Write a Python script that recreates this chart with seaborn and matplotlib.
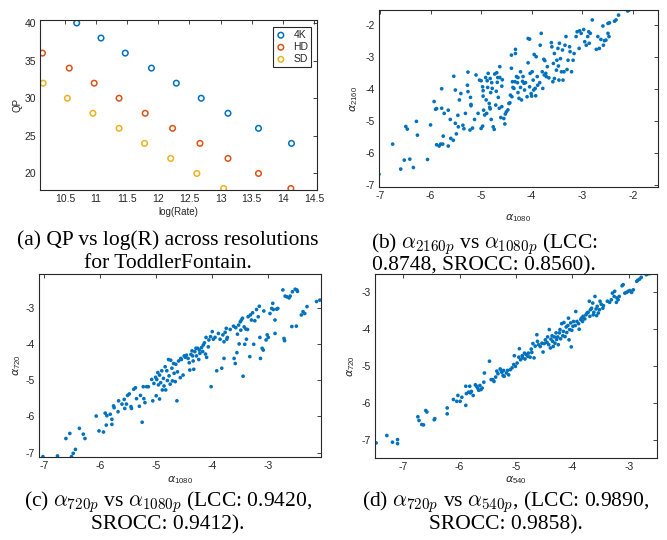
import matplotlib
matplotlib.use("Agg")
import matplotlib.pyplot as plt
import seaborn as sns

# ---------------- data ----------------
# (a) QP vs log(Rate)
a_rate_4k = [10.69, 11.08, 11.47, 11.89, 12.29, 12.69, 13.12, 13.61, 14.14]
a_qp_4k = [40, 38, 36, 34, 32, 30, 28, 26, 24]
a_rate_hd = [10.14, 10.57, 10.97, 11.37, 11.79, 12.23, 12.67, 13.12, 13.61, 14.13]
a_qp_hd = [36, 34, 32, 30, 28, 26, 24, 22, 20, 18]
a_rate_sd = [10.15, 10.54, 10.95, 11.37, 11.78, 12.2, 12.62, 13.05]
a_qp_sd = [32, 30, 28, 26, 24, 22, 20, 18]
a_series = ["4K", "HD", "SD"]
a_xticks = [10.5, 11, 11.5, 12, 12.5, 13, 13.5, 14, 14.5]
a_xticklabels = ["10.5", "11", "11.5", "12", "12.5", "13", "13.5", "14", "14.5"]
a_yticks = [20, 25, 30, 35, 40]

# (b) alpha_2160 vs alpha_1080
b_x = [-7.02,-6.75,-6.59,-6.52,-6.41,-6.34,-6.49,-6.46,-6.28,-6.26,
       -6.06,-6.0,-5.93,-5.88,-5.9,-5.88,-5.83,-5.78,-5.78,-5.75,
       -5.73,-5.8,-5.76,-5.65,-5.65,-5.61,-5.6,-5.55,-5.54,-5.51,
       -5.51,-5.49,-5.46,-5.45,-5.43,-5.4,-5.36,-5.34,-5.31,-5.27,
       -5.26,-5.26,-5.22,-5.21,-5.2,-5.2,-5.17,-5.1,-5.13,-5.06,
       -5.03,-5.0,-5.0,-4.97,-4.97,-4.96,-4.96,-4.95,-4.93,-4.91,
       -4.9,-4.89,-4.88,-4.87,-4.86,-4.84,-4.83,-4.82,-4.82,-4.81,
       -4.8,-4.79,-4.78,-4.76,-4.74,-4.73,-4.71,-4.7,-4.69,-4.68,
       -4.67,-4.66,-4.64,-4.63,-4.63,-4.61,-4.59,-4.59,-4.58,-4.55,
       -4.53,-4.52,-4.5,-4.47,-4.45,-4.43,-4.42,-4.4,-4.4,-4.39,
       -4.38,-4.37,-4.35,-4.33,-4.32,-4.32,-4.3,-4.28,-4.27,-4.27,
       -4.25,-4.22,-4.22,-4.2,-4.18,-4.17,-4.15,-4.14,-4.12,-4.09,
       -4.07,-4.04,-4.07,-4.04,-4.03,-4.01,-4.0,-3.99,-3.97,-3.96,
       -3.95,-3.93,-3.92,-3.91,-3.89,-3.88,-3.84,-3.83,-3.81,-3.79,
       -3.78,-3.76,-3.75,-3.74,-3.72,-3.71,-3.69,-3.66,-3.61,-3.6,
       -3.58,-3.57,-3.55,-3.55,-3.51,-3.5,-3.48,-3.47,-3.46,-3.45,
       -3.43,-3.41,-3.39,-3.38,-3.36,-3.34,-3.32,-3.3,-3.28,-3.25,
       -3.24,-3.21,-3.18,-3.16,-3.12,-3.1,-3.06,-3.05,-3.02,-2.97,
       -2.95,-2.92,-2.89,-2.87,-2.86,-2.84,-2.8,-2.72,-2.69,-2.66,
       -2.63,-2.59,-2.58,-2.56,-2.53,-2.49,-2.47,-2.49,-2.46,-2.36,
       -2.33,-2.28,-2.1,-2.07]
b_y = [-6.66,-5.72,-6.5,-6.22,-6.19,-6.45,-5.17,-5.25,-5.01,-5.44,
       -6.2,-5.12,-4.39,-4.61,-4.63,-5.74,-5.78,-4.6,-3.99,-5.47,
       -4.76,-5.72,-5.72,-4.66,-5.78,-4.95,-5.54,-5.6,-3.6,-4.03,
       -5.07,-5.4,-4.82,-5.18,-4.34,-4.14,-5.13,-5.24,-4.76,-3.88,
       -4.08,-3.47,-5.28,-4.26,-4.48,-4.52,-5.22,-3.56,-4.95,-4.76,
       -3.72,-3.74,-5.23,-5.16,-3.93,-4.05,-4.22,-4.66,-4.81,-3.64,
       -4.34,-4.76,-3.74,-3.95,-3.51,-4.45,-4.57,-4.62,-3.67,-4.11,
       -4.95,-3.8,-3.98,-5.18,-5.26,-3.53,-4.5,-4.07,-3.49,-3.79,
       -3.64,-4.26,-4.6,-3.3,-3.64,-4.89,-3.91,-4.55,-3.71,-4.92,
       -5.09,-4.78,-4.71,-4.65,-4.45,-4.43,-4.19,-3.35,-2.94,-4.24,
       -3.77,-3.95,-3.98,-3.77,-2.76,-2.89,-3.61,-3.8,-3.64,-4.11,
       -4.29,-3.46,-3.95,-4.34,-3.76,-3.61,-3.82,-4.03,-3.8,-4.24,
       -2.42,-2.44,-3.18,-3.93,-3.51,-4.14,-4.22,-3.46,-3.72,-4.03,
       -2.92,-3.98,-4.21,-2.99,-3.61,-3.88,-3.8,-2.63,-2.26,-3.46,
       -3.98,-3.07,-3.56,-3.11,-3.51,-3.61,-3.3,-3.65,-2.55,-2.68,
       -3.77,-3.2,-2.89,-3.67,-3.41,-3.1,-2.73,-3.28,-3.72,-2.57,
       -3.05,-3.46,-2.78,-3.72,-3.46,-2.63,-2.36,-3.39,-3.1,-2.68,
       -2.83,-3.46,-3.1,-2.89,-2.36,-2.21,-2.73,-2.18,-2.26,-2.14,
       -2.52,-2.63,-2.36,-2.21,-2.57,-2.26,-1.84,-2.76,-2.36,-2.73,
       -2.45,-2.03,-2.63,-2.49,-2.47,-2.26,-2.36,-1.95,-1.93,-1.88,
       -1.84,-1.69,-1.56,-1.53]
b_ticks = [-7, -6, -5, -4, -3, -2]

# (c) alpha_720 vs alpha_1080
c_x = [-7.02,-6.76,-6.51,-6.48,-6.44,-6.61,-6.54,-6.37,-6.3,-6.27,
       -6.07,-6.02,-5.94,-5.91,-5.89,-5.88,-5.82,-5.79,-5.79,-5.76,
       -5.75,-5.68,-5.67,-5.61,-5.57,-5.56,-5.53,-5.51,-5.48,-5.45,
       -5.44,-5.4,-5.37,-5.35,-5.3,-5.28,-5.25,-5.23,-5.22,-5.2,
       -5.17,-5.14,-5.08,-5.06,-5.04,-5.01,-5.0,-4.99,-4.97,-4.96,
       -4.94,-4.94,-4.92,-4.9,-4.89,-4.87,-4.86,-4.84,-4.83,-4.81,
       -4.8,-4.78,-4.77,-4.75,-4.74,-4.72,-4.71,-4.69,-4.68,-4.66,
       -4.65,-4.63,-4.62,-4.6,-4.57,-4.56,-4.55,-4.52,-4.5,-4.48,
       -4.46,-4.43,-4.41,-4.4,-4.38,-4.36,-4.35,-4.34,-4.33,-4.31,
       -4.29,-4.28,-4.26,-4.24,-4.23,-4.22,-4.19,-4.17,-4.16,-4.14,
       -4.12,-4.11,-4.1,-4.07,-4.06,-4.03,-4.02,-4.0,-3.98,-3.95,
       -3.92,-3.89,-3.86,-3.83,-3.81,-3.79,-3.79,-3.77,-3.75,-3.74,
       -3.73,-3.68,-3.62,-3.61,-3.59,-3.58,-3.56,-3.55,-3.53,-3.52,
       -3.5,-3.49,-3.48,-3.46,-3.45,-3.43,-3.42,-3.4,-3.39,-3.37,
       -3.36,-3.33,-3.32,-3.3,-3.28,-3.26,-3.24,-3.21,-3.18,-3.16,
       -3.15,-3.14,-3.11,-3.09,-3.08,-3.04,-3.02,-3.0,-2.97,-2.94,
       -2.92,-2.91,-2.88,-2.88,-2.85,-2.83,-2.74,-2.72,-2.71,-2.7,
       -2.67,-2.63,-2.61,-2.58,-2.57,-2.52,-2.49,-2.48,-2.5,-2.41,
       -2.38,-2.35,-2.31,-2.14,-2.08]
c_y = [-7.11,-7.09,-7.11,-7.02,-6.91,-6.61,-6.47,-6.33,-6.49,-6.61,
       -5.99,-6.4,-6.43,-5.91,-6.24,-5.98,-5.94,-6.08,-6.22,-5.71,
       -5.76,-5.87,-5.57,-5.66,-5.53,-5.78,-5.66,-5.42,-5.38,-5.73,
       -5.78,-5.25,-5.21,-5.51,-5.72,-5.42,-6.16,-5.18,-5.51,-5.62,
       -5.18,-5.18,-4.98,-5.57,-5.09,-4.92,-5.43,-4.98,-4.79,-5.13,
       -5.52,-4.86,-5.07,-4.74,-5.27,-4.95,-5.16,-4.63,-5.27,-4.74,
       -5.01,-4.43,-4.88,-5.11,-4.45,-4.67,-5.02,-4.54,-4.81,-5.04,
       -4.56,-5.57,-4.77,-4.47,-4.93,-4.4,-4.43,-4.86,-4.33,-4.37,
       -4.31,-4.4,-4.52,-4.72,-4.29,-4.19,-4.33,-4.47,-4.7,-4.21,
       -4.12,-4.33,-4.12,-4.43,-4.17,-4.26,-4.1,-4.21,-4.03,-3.97,
       -4.28,-3.82,-4.37,-4.08,-3.89,-3.8,-5.18,-3.66,-3.87,-3.82,
       -4.74,-3.71,-3.87,-4.67,-3.75,-4.4,-3.94,-3.68,-3.57,-3.87,
       -3.82,-3.6,-3.51,-4.4,-4.54,-3.55,-4.24,-3.73,-3.48,-4.0,
       -3.39,-3.62,-3.34,-3.29,-4.89,-3.53,-4.01,-3.59,-3.87,-3.6,
       -3.25,-4.35,-3.2,-3.34,-3.14,-4.01,-3.36,-3.05,-3.25,-2.96,
       -3.82,-4.4,-4.12,-4.17,-3.09,-3.89,-3.75,-3.82,-3.16,-3.02,
       -2.88,-3.05,-3.34,-3.71,-3.04,-3.02,-2.51,-3.85,-3.91,-2.68,
       -2.7,-2.73,-2.68,-3.52,-2.56,-2.49,-2.51,-2.55,-3.51,-3.2,
       -3.11,-3.16,-2.97,-2.83,-2.79]
c_ticks = [-7, -6, -5, -4, -3]

# (d) alpha_720 vs alpha_540
d_x = [-7.48,-7.29,-7.19,-7.1,-7.1,-6.74,-6.72,-6.67,-6.64,-6.6,
       -6.58,-6.45,-6.44,-6.22,-6.22,-6.11,-6.05,-6.03,-5.99,-5.96,
       -5.89,-5.89,-5.88,-5.84,-5.82,-5.81,-5.79,-5.76,-5.72,-5.7,
       -5.68,-5.66,-5.64,-5.62,-5.6,-5.57,-5.56,-5.47,-5.44,-5.41,
       -5.39,-5.36,-5.34,-5.32,-5.28,-5.26,-5.25,-5.23,-5.22,-5.21,
       -5.17,-5.15,-5.13,-5.1,-5.07,-5.04,-5.01,-5.03,-4.98,-4.95,
       -4.94,-4.92,-4.89,-4.88,-4.85,-4.84,-4.82,-4.79,-4.78,-4.75,
       -4.73,-4.72,-4.7,-4.68,-4.66,-4.63,-4.62,-4.6,-4.57,-4.54,
       -4.52,-4.5,-4.48,-4.45,-4.44,-4.42,-4.41,-4.39,-4.38,-4.36,
       -4.35,-4.34,-4.32,-4.31,-4.29,-4.28,-4.26,-4.25,-4.23,-4.22,
       -4.21,-4.19,-4.17,-4.16,-4.15,-4.13,-4.11,-4.1,-4.08,-4.07,
       -4.06,-4.05,-4.03,-4.02,-4.01,-3.99,-3.98,-3.95,-3.94,-3.92,
       -3.89,-3.88,-3.85,-3.84,-3.82,-3.81,-3.78,-3.76,-3.74,-3.72,
       -3.7,-3.69,-3.68,-3.66,-3.64,-3.63,-3.62,-3.6,-3.58,-3.57,
       -3.56,-3.54,-3.52,-3.51,-3.49,-3.46,-3.45,-3.38,-3.34,-3.31,
       -3.29,-3.26,-3.25,-3.22,-3.21,-3.19,-3.17,-3.12,-3.1,-3.07,
       -3.04,-3.01,-2.98,-2.95,-2.92,-2.86,-2.84,-2.81,-2.78,-2.75,
       -2.69,-2.66,-2.63]
d_y = [-7.09,-6.89,-7.07,-7.0,-7.11,-6.38,-6.48,-6.59,-6.6,-6.21,
       -6.25,-6.46,-6.43,-6.14,-6.3,-5.91,-5.96,-5.8,-5.96,-5.85,
       -6.07,-5.55,-5.75,-5.71,-5.55,-5.73,-5.69,-5.8,-5.51,-5.55,
       -5.6,-5.66,-5.53,-5.64,-5.6,-5.44,-5.19,-4.87,-5.37,-5.37,
       -5.42,-5.3,-5.14,-5.21,-5.08,-5.14,-5.17,-5.26,-5.12,-5.28,
       -5.19,-5.12,-5.24,-5.1,-5.05,-4.96,-5.01,-4.72,-4.92,-4.76,
       -4.53,-4.83,-4.72,-4.78,-4.65,-4.81,-4.69,-4.74,-4.65,-4.76,
       -4.54,-4.63,-4.39,-4.78,-4.46,-4.15,-4.33,-4.42,-4.47,-4.38,
       -4.62,-4.39,-4.29,-4.36,-4.21,-4.42,-4.01,-4.51,-4.27,-4.18,
       -4.33,-4.47,-4.21,-4.38,-4.1,-4.28,-4.21,-4.42,-4.1,-4.01,
       -4.26,-3.85,-4.18,-4.06,-3.82,-4.2,-3.94,-4.09,-3.9,-3.7,
       -4.29,-4.01,-3.83,-4.48,-4.03,-3.92,-3.79,-3.9,-3.52,-3.79,
       -3.85,-4.0,-3.74,-3.7,-3.79,-3.65,-3.72,-3.61,-3.56,-3.54,
       -3.24,-3.65,-3.47,-3.43,-3.29,-3.61,-3.54,-3.11,-3.45,-3.63,
       -3.38,-3.56,-3.47,-3.24,-3.32,-3.43,-3.36,-3.24,-3.27,-3.2,
       -3.02,-3.11,-2.97,-3.27,-3.15,-3.2,-3.11,-2.82,-2.79,-3.02,
       -3.0,-2.97,-2.95,-3.0,-2.93,-2.7,-2.67,-2.64,-2.59,-2.48,
       -2.52,-2.49,-2.49]
d_ticks = [-7, -6, -5, -4, -3]

captions = {
    "a": ["(a) QP vs log(R) across resolutions", "for ToddlerFontain."],
    "b": [r"(b) $\alpha_{2160p}$ vs $\alpha_{1080p}$ (LCC:", "0.8748, SROCC: 0.8560)."],
    "c": [r"(c) $\alpha_{720p}$ vs $\alpha_{1080p}$ (LCC: 0.9420,", "SROCC: 0.9412)."],
    "d": [r"(d) $\alpha_{720p}$ vs $\alpha_{540p}$, (LCC: 0.9890,", "SROCC: 0.9858)."],
}

# ---------------- style ----------------
sns.set_style("white")
plt.rcParams["font.family"] = ["Liberation Sans", "DejaVu Sans"]
plt.rcParams["axes.unicode_minus"] = False

COL = ["#0072BD", "#D95319", "#EDB120"]
DOT = "#0072BD"
INK = "#262626"
W, H = 667, 540

fig = plt.figure(figsize=(W / 100, H / 100), dpi=100)


def add_ax(l, t, r, b):
    return fig.add_axes([l / W, 1 - b / H, (r - l) / W, (b - t) / H])


def style(ax):
    for s in ax.spines.values():
        s.set_color(INK)
        s.set_linewidth(0.8)
    ax.tick_params(direction="in", length=3, width=0.6, colors=INK,
                   labelsize=7.5, top=True, right=True, pad=3)


def labels(ax, xl, yl, xpos, ypos, size=8):
    ax.set_xlabel(xl, fontsize=size, color=INK, math_fontfamily="dejavusans")
    ax.set_ylabel(yl, fontsize=size, color=INK, math_fontfamily="dejavusans")
    ax.xaxis.set_label_coords(0.5, xpos)
    ax.yaxis.set_label_coords(ypos, 0.5)
    ax.xaxis.label.set_verticalalignment("center")
    ax.yaxis.label.set_verticalalignment("center")


axA = add_ax(40, 20, 317, 190)
axB = add_ax(379, 10, 658, 187)
axC = add_ax(39, 274, 321, 457)
axD = add_ax(375, 274, 657, 458)

# (a)
for name, xs, ys, c in zip(a_series, [a_rate_4k, a_rate_hd, a_rate_sd],
                           [a_qp_4k, a_qp_hd, a_qp_sd], COL):
    sns.scatterplot(x=xs, y=ys, ax=axA, marker="o", s=16, color=c,
                    facecolor="none", edgecolor=c, linewidth=1.1, label=name)
axA.set_xlim(10.1, 14.55)
axA.set_ylim(17.8, 40.4)
axA.set_xticks(a_xticks)
axA.set_xticklabels(a_xticklabels)
axA.set_yticks(a_yticks)
style(axA)
labels(axA, "log(Rate)", "QP", -0.13, -0.08, size=7)
leg = axA.legend(loc="upper right", bbox_to_anchor=(0.98, 0.96), fontsize=7.5,
                 frameon=True, fancybox=False, edgecolor=INK, framealpha=1,
                 handletextpad=0.7, borderpad=0.3, labelspacing=0.2,
                 handlelength=1.0, borderaxespad=0)
leg.get_frame().set_linewidth(0.8)

# (b)
sns.scatterplot(x=b_x, y=b_y, ax=axB, s=7, color=DOT, linewidth=0, edgecolor="none")
axB.set_xlim(-7.02, -1.5)
axB.set_ylim(-7.06, -1.53)
axB.set_xticks(b_ticks)
axB.set_yticks(b_ticks)
style(axB)
labels(axB, r"$\alpha_{\mathregular{1080}}$", r"$\alpha_{\mathregular{2160}}$", -0.175, -0.09)

# (c)
sns.scatterplot(x=c_x, y=c_y, ax=axC, s=7, color=DOT, linewidth=0, edgecolor="none")
axC.set_xlim(-7.09, -2.06)
axC.set_ylim(-7.12, -2.07)
axC.set_xticks(c_ticks)
axC.set_yticks(c_ticks)
style(axC)
labels(axC, r"$\alpha_{\mathregular{1080}}$", r"$\alpha_{\mathregular{720}}$", -0.125, -0.078)

# (d)
sns.scatterplot(x=d_x, y=d_y, ax=axD, s=7, color=DOT, linewidth=0, edgecolor="none")
axD.set_xlim(-7.5, -2.5)
axD.set_ylim(-7.5, -2.5)
axD.set_xticks(d_ticks)
axD.set_yticks(d_ticks)
style(axD)
labels(axD, r"$\alpha_{\mathregular{540}}$", r"$\alpha_{\mathregular{720}}$", -0.12, -0.084)

# captions
cap_pos = {"a": (168, 245, 268), "b": (484, 248, 270),
           "c": (168, 506, 529), "d": (506, 506, 529)}
for k, (cx, y1, y2) in cap_pos.items():
    for line, yy in zip(captions[k], (y1, y2)):
        fig.text(cx / W, 1 - yy / H, line, ha="center", va="baseline",
                 fontsize=15.5, family=["Liberation Serif", "DejaVu Serif"],
                 math_fontfamily="cm", color="black")

fig.savefig("out.png", dpi=100)
